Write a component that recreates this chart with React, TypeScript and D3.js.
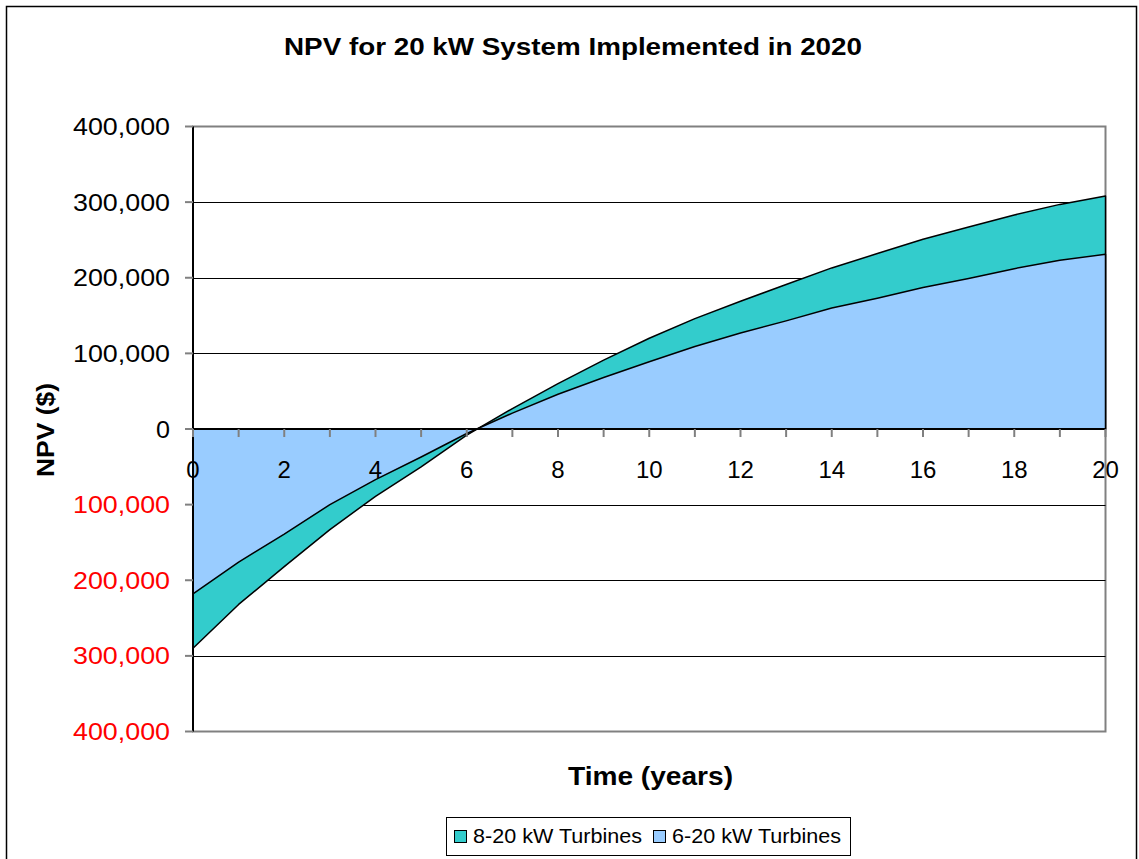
import React from "react";
import * as d3 from "d3";

const years = [0, 1, 2, 3, 4, 5, 6, 7, 8, 9, 10, 11, 12, 13, 14, 15, 16, 17, 18, 19, 20];
const turbines8to20 = [-290000, -232000, -182000, -133000, -89000, -50000, -8000, 27000, 60000, 91000, 120000, 146000, 169000, 191000, 213000, 232000, 251000, 267000, 283000, 297000, 308000];
const turbines6to20 = [-218000, -176000, -139000, -100000, -67000, -37000, -6000, 21000, 46000, 68000, 89000, 109000, 127000, 143000, 160000, 173000, 187000, 199000, 212000, 223000, 231000];
const yTicks = [400000, 300000, 200000, 100000, 0, -100000, -200000, -300000, -400000];
const xTickLabels = [0, 2, 4, 6, 8, 10, 12, 14, 16, 18, 20];
const seriesNames = ["8-20 kW Turbines", "6-20 kW Turbines"];
const seriesColors = ["#33CCCC", "#99CCFF"];

const FONT = "Arial, 'Liberation Sans', sans-serif";

export default function App() {
  const W = 1139, H = 859;
  const left = 193, right = 1105.5, top = 126.5, bottom = 731.5;
  const x = d3.scaleLinear().domain([0, 20]).range([left, right]);
  const y = d3.scaleLinear().domain([-400000, 400000]).range([bottom, top]);
  const fmt = d3.format(",");

  const mkArea = (vals: number[]) =>
    d3.area<number>().x((_, i) => x(years[i])).y0(y(0)).y1((d) => y(d))(vals) + "";

  const series = [turbines8to20, turbines6to20];

  return (
    <svg width={W} height={H} style={{ position: "absolute", left: 0, top: 0, background: "#fff" }}>
      <rect x={6.5} y={6.5} width={1130} height={870} fill="#fff" stroke="#000" strokeWidth={1.5} />
      <text x={284} y={55} fontFamily={FONT} fontWeight="bold" fontSize={23} textLength={578} lengthAdjust="spacingAndGlyphs">
        NPV for 20 kW System Implemented in 2020
      </text>
      {/* plot area border */}
      <rect x={left} y={top} width={right - left} height={bottom - top} fill="#fff" stroke="#808080" strokeWidth={2} />
      {/* gridlines */}
      {yTicks.filter((t) => t !== 400000 && t !== -400000 && t !== 0).map((t) => (
        <line key={t} x1={left} x2={right} y1={Math.round(y(t)) + 0.5} y2={Math.round(y(t)) + 0.5} stroke="#000" strokeWidth={1} />
      ))}
      {/* areas */}
      {series.map((vals, i) => (
        <path key={i} d={mkArea(vals)} fill={seriesColors[i]} stroke="#000" strokeWidth={1.5} strokeLinejoin="round" />
      ))}
      {/* y axis */}
      <line x1={left} x2={left} y1={top} y2={bottom} stroke="#000" strokeWidth={2} />
      {yTicks.map((t) => {
        const label = fmt(Math.abs(t));
        const len = label.length === 1 ? 14 : 97;
        return (
          <g key={t}>
            <line x1={left - 8} x2={left} y1={y(t)} y2={y(t)} stroke="#808080" strokeWidth={2} />
            <text x={170 - len} y={y(t) + 8.5} fontFamily={FONT} fontSize={24} textLength={len} lengthAdjust="spacingAndGlyphs" fill={t < 0 ? "#FF0000" : "#000"}>
              {label}
            </text>
          </g>
        );
      })}
      {/* x axis at zero */}
      <line x1={left} x2={right} y1={y(0)} y2={y(0)} stroke="#000" strokeWidth={2} />
      {years.map((yr) => (
        <line key={yr} x1={x(yr)} x2={x(yr)} y1={y(0)} y2={y(0) + 8} stroke="#808080" strokeWidth={2} />
      ))}
      {xTickLabels.map((t) => (
        <text key={t} x={x(t)} y={478} textAnchor="middle" fontFamily={FONT} fontSize={24} fill="#000">
          {t}
        </text>
      ))}
      <text transform={`translate(54,477) rotate(-90)`} fontFamily={FONT} fontWeight="bold" fontSize={23} textLength={94} lengthAdjust="spacingAndGlyphs">
        NPV ($)
      </text>
      <text x={568} y={785} fontFamily={FONT} fontWeight="bold" fontSize={25} textLength={165} lengthAdjust="spacingAndGlyphs">
        Time (years)
      </text>
      {/* legend */}
      <rect x={446.5} y={817.5} width={404} height={38} fill="#fff" stroke="#000" strokeWidth={1} />
      {seriesNames.map((name, i) => {
        const lx = i === 0 ? 454 : 653;
        return (
          <g key={name}>
            <rect x={lx + 0.5} y={830.5} width={12} height={12} fill={seriesColors[i]} stroke="#000" strokeWidth={1} />
            <text x={lx + 19} y={843} fontFamily={FONT} fontSize={19.5} textLength={169} lengthAdjust="spacingAndGlyphs" fill="#000">
              {name}
            </text>
          </g>
        );
      })}
    </svg>
  );
}
